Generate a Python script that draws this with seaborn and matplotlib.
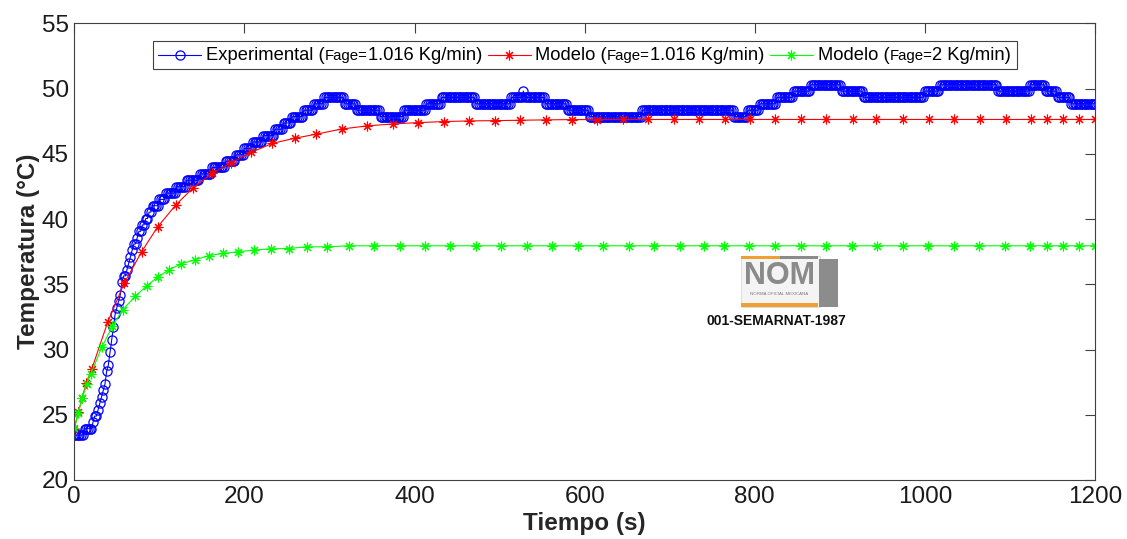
import numpy as np
import pandas as pd
import matplotlib
matplotlib.use("Agg")
import matplotlib.pyplot as plt
import seaborn as sns
from matplotlib.patches import Rectangle
from matplotlib.lines import Line2D
from matplotlib.offsetbox import AnchoredOffsetbox, HPacker, TextArea, DrawingArea

# ---------------- data ----------------
# Experimental series: quantised sensor levels and how many 2 s samples each level lasts
exp_dt = 2.0
exp_levels = [23.44, 23.93, 24.41, 24.90, 25.39, 25.88, 26.37, 26.86, 27.34, 28.32,
              28.81, 29.79, 30.76, 31.74, 32.71, 33.20, 33.69, 34.18, 35.16, 35.64,
              36.13, 36.62, 37.11, 37.60, 38.09, 38.57, 39.06, 39.55, 40.04, 40.53,
              41.02, 41.50, 41.99, 42.48, 42.97, 43.46, 43.95, 44.43, 44.92, 45.41,
              45.90, 46.39, 46.88, 47.36, 47.85, 48.34, 48.83, 49.32, 48.83, 48.34,
              47.85, 48.34, 48.83, 49.32, 48.83, 49.32, 49.80, 49.32, 48.83, 48.34,
              47.85, 48.34, 47.85, 48.34, 48.83, 49.32, 49.80, 50.29, 49.80, 49.32,
              49.80, 50.29, 49.80, 50.29, 49.80, 49.32, 48.83]
exp_counts = [6, 5, 1, 2, 1, 1, 1, 1, 1, 1,
              1, 1, 1, 1, 1, 1, 1, 1, 1, 2,
              1, 1, 1, 1, 2, 1, 2, 2, 2, 2,
              4, 4, 6, 6, 8, 7, 8, 6, 5, 5,
              6, 7, 5, 5, 7, 6, 6, 12, 7, 14,
              14, 13, 9, 20, 21, 7, 1, 12, 13, 13,
              31, 54, 8, 7, 10, 10, 10, 18, 13, 36,
              9, 34, 19, 9, 7, 8, 15]

# Model (Fage = 1.016 Kg/min)
red_t = [0, 4.7, 9.4, 13.8, 20.5, 39.3, 58.8, 79.2, 98.0, 119.6,
         139.9, 161.9, 183.9, 207.7, 232.8, 259.8, 284.1, 314.4, 344.5, 375.0,
         404.4, 435.0, 464.4, 494.6, 524.0, 554.0, 585.0, 614.0, 644.7, 674.8,
         705.4, 734.8, 765.0, 794.4, 823.8, 854.4, 884.1, 915.0, 942.9, 974.6,
         1004.4, 1034.5, 1064.7, 1094.9, 1124.6, 1143.4, 1161.9, 1181.0, 1200.0]
red_T = [23.9, 25.2, 26.3, 27.4, 28.5, 32.1, 35.1, 37.5, 39.4, 41.1,
         42.4, 43.5, 44.3, 45.1, 45.8, 46.2, 46.5, 46.9, 47.14, 47.29,
         47.39, 47.47, 47.52, 47.54, 47.57, 47.60, 47.62, 47.62, 47.63, 47.63,
         47.63, 47.63, 47.63, 47.63, 47.63, 47.63, 47.63, 47.63, 47.63, 47.63,
         47.63, 47.63, 47.63, 47.63, 47.63, 47.63, 47.63, 47.63, 47.63]

# Model (Fage = 2 Kg/min)
green_t = [0, 4.5, 9.4, 14.6, 19.3, 32.2, 44.7, 56.9, 71.7, 85.1,
           98.0, 111.3, 125.8, 141.9, 158.4, 174.8, 192.1, 211.6, 231.6, 252.0,
           273.2, 297.4, 322.6, 352.6, 382.5, 412.0, 442.0, 472.0, 502.0, 532.0,
           562.0, 592.0, 622.0, 652.0, 682.0, 712.0, 740.0, 764.0, 793.6, 824.0,
           854.0, 884.0, 914.0, 944.0, 974.0, 1004.0, 1034.0, 1064.0, 1094.0, 1124.0,
           1144.0, 1162.0, 1181.0, 1200.0]
green_T = [24.0, 25.1, 26.3, 27.36, 28.1, 30.16, 31.77, 33.05, 34.07, 34.88,
           35.55, 36.11, 36.57, 36.88, 37.2, 37.36, 37.49, 37.62, 37.72, 37.74,
           37.87, 37.87, 37.95, 37.95, 37.95, 37.95, 37.95, 37.95, 37.95, 37.95,
           37.95, 37.95, 37.95, 37.95, 37.95, 37.95, 37.95, 37.95, 37.95, 37.95,
           37.95, 37.95, 37.95, 37.95, 37.95, 37.95, 37.95, 37.95, 37.95, 37.95,
           37.95, 37.95, 37.95, 37.95]

x_ticks = [0, 200, 400, 600, 800, 1000, 1200]
y_ticks = [20, 25, 30, 35, 40, 45, 50, 55]
# legend labels split as (prefix, small part, suffix)
series_names = [("Experimental (", "Fage=", "1.016 Kg/min)"),
                ("Modelo (", "Fage=", "1.016 Kg/min)"),
                ("Modelo (", "Fage=", "2 Kg/min)")]
series_colors = ["#0000FF", "#FF0000", "#00FF00"]
x_label = "Tiempo (s)"
y_label = "Temperatura (°C)"
logo_text = "NOM"
logo_sub = "NORMA OFICIAL MEXICANA"
logo_code = "001-SEMARNAT-1987"

# ---------------- build frames ----------------
exp_T = np.repeat(exp_levels, exp_counts)
exp_t = np.arange(len(exp_T)) * exp_dt
df_exp = pd.DataFrame({"t": exp_t, "T": exp_T})
df_red = pd.DataFrame({"t": red_t, "T": red_T})
df_green = pd.DataFrame({"t": green_t, "T": green_T})

# ---------------- plot ----------------
sns.set_style("white")
plt.rcParams["font.family"] = ["Liberation Sans", "DejaVu Sans"]

W, H = 1127, 539
fig = plt.figure(figsize=(W / 100, H / 100), dpi=100)
ax = fig.add_axes([74.3 / W, 1 - 480 / H, (1095 - 74.3) / W, (480 - 23.3) / H])

ASTER = (8, 2, 0)
styles = [dict(marker="o", markersize=6.6, markerfacecolor="none",
               markeredgewidth=0.9),
          dict(marker=ASTER, markersize=7, markeredgewidth=0.8),
          dict(marker=ASTER, markersize=7, markeredgewidth=0.8)]

for df, col, st in zip([df_exp, df_red, df_green], series_colors, styles):
    sns.lineplot(data=df, x="t", y="T", ax=ax, color=col, lw=0.8,
                 markeredgecolor=col, sort=False, estimator=None, **st)

ax.set_xlim(0, 1200)
ax.set_ylim(20, 55)
ax.set_xticks(x_ticks)
ax.set_yticks(y_ticks)
ax.set_xticklabels([str(v) for v in x_ticks])
ax.set_yticklabels([str(v) for v in y_ticks])
ax.tick_params(direction="in", length=7, width=0.8, color="#404040",
               labelsize=17.5, labelcolor="#1a1a1a", top=True, right=True,
               pad=4)
for s in ax.spines.values():
    s.set_visible(True)
    s.set_color("#404040")
    s.set_linewidth(0.8)

ax.set_xlabel(x_label, fontsize=17.5, fontweight="bold", labelpad=3)
ax.set_ylabel(y_label, fontsize=17.5, fontweight="bold", labelpad=1)

# ---------------- legend (mixed font sizes) ----------------
big = dict(size=13.2, color="black")
small = dict(size=10.8, color="black")
entries = []
for (pre, mid, post), col, st in zip(series_names, series_colors, styles):
    da = DrawingArea(31, 10, 0, 0)
    da.add_artist(Line2D([0, 31], [5, 5], color=col, lw=0.8))
    da.add_artist(Line2D([15.5], [5], color=col, markeredgecolor=col, **st))
    txt = HPacker(children=[TextArea(pre, textprops=big),
                            TextArea(mid, textprops=small),
                            TextArea(post, textprops=big)],
                  align="baseline", pad=0, sep=0)
    entries.append(HPacker(children=[da, txt], align="center", pad=0, sep=3.5))
legend_box = HPacker(children=entries, align="center", pad=0, sep=4)
anch = AnchoredOffsetbox(loc="upper center", child=legend_box, pad=0.3,
                         borderpad=0, frameon=True, prop=dict(size=13),
                         bbox_to_anchor=(0.5, 1 - 18 / 457),
                         bbox_transform=ax.transAxes)
anch.patch.set_edgecolor("#404040")
anch.patch.set_linewidth(0.8)
anch.patch.set_facecolor("white")
ax.add_artist(anch)


# ---------------- logo (NOM badge) ----------------
def fx(px):
    return px / W


def fy(py):
    return 1 - py / H


def rect(x0, y0, x1, y1, color, ec="none", lw=0):
    fig.add_artist(Rectangle((fx(x0), fy(y1)), fx(x1) - fx(x0), fy(y0) - fy(y1),
                             transform=fig.transFigure, facecolor=color,
                             edgecolor=ec, linewidth=lw))


rect(741, 256, 820, 307, "#f4f4f4", ec="#d8d8d8", lw=0.6)
rect(741, 256, 780, 258.5, "#f0a030")
rect(780, 256, 818, 258.5, "#8a8a8a")
rect(741, 303, 818, 307, "#f0a030")
rect(819, 259, 838, 307, "#8c8c8d")
fig.text(fx(779), fy(276), logo_text, ha="center", va="center",
         fontsize=22, fontweight="bold", color="#8a8a8a")
fig.text(fx(779), fy(294), logo_sub, ha="center", va="center",
         fontsize=3.2, color="#7a7a7a")
fig.text(fx(776), fy(321), logo_code, ha="center", va="center",
         fontsize=10, fontweight="bold", color="#111111",
         family=["Liberation Sans Narrow", "Liberation Sans"])

fig.savefig("out.png", dpi=100)
